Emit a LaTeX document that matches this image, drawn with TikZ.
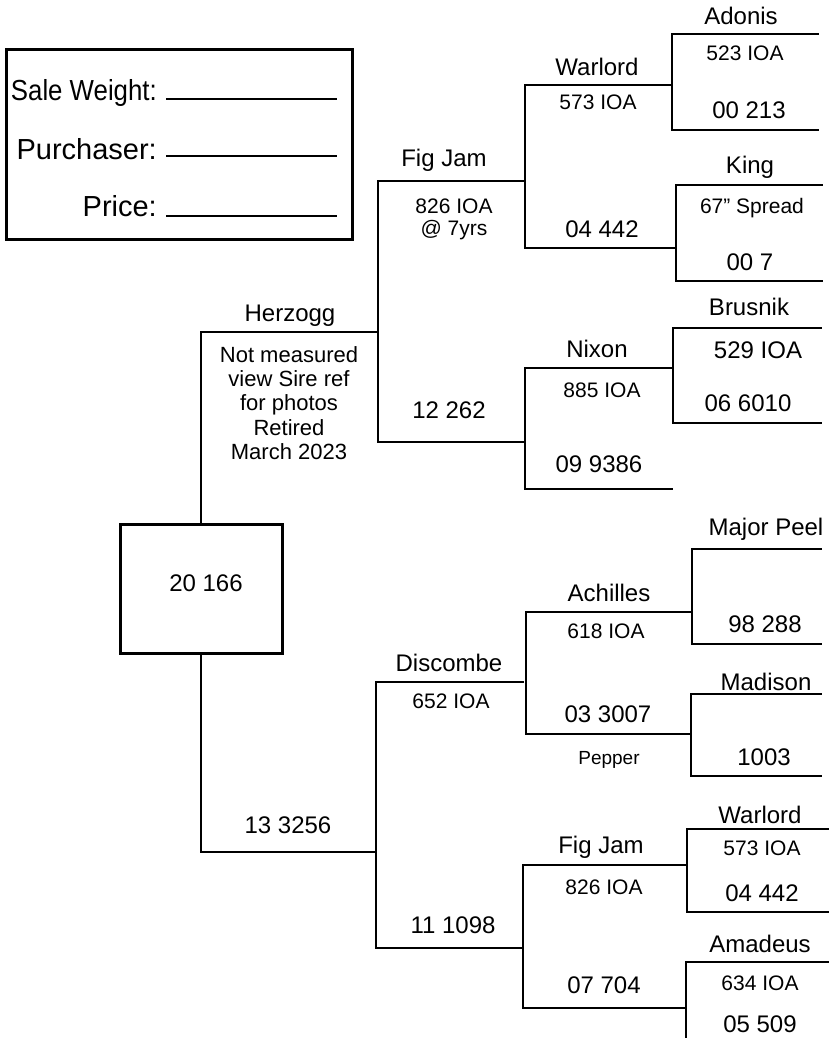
\documentclass[tikz,border=0pt]{standalone}
\usepackage{fontspec}
\usepackage{graphicx}
\setmainfont{Liberation Sans}

\begin{document}
\begin{tikzpicture}[x=1pt, y=-1pt,
    ped/.style={line width=1.6pt, line cap=rect},
    frame/.style={line width=3pt},
    rule/.style={line width=1.2pt},
    big/.style={font=\fontsize{24}{28}\selectfont, anchor=base, inner sep=0pt},
    sml/.style={font=\fontsize{21}{24}\selectfont, anchor=base, inner sep=0pt},
    lab/.style={font=\fontsize{29}{32}\selectfont, anchor=base east, inner sep=0pt}]
  \useasboundingbox (0,0) rectangle (829,1038);

  % sale box
  \draw[frame] (6,50) rectangle (352,239);
  \node[lab] (sw) at (157,101) {\scalebox{0.89}[1]{Sale Weight:}};
  \node[lab] (pu) at (157,159) {Purchaser:};
  \node[lab] (pr) at (157,216) {Price:};
  \coordinate (sw1) at (166,99);  \coordinate (sw2) at (337,99);
  \coordinate (pu1) at (166,156); \coordinate (pu2) at (337,156);
  \coordinate (pr1) at (166,216); \coordinate (pr2) at (337,216);
  \draw[rule] (sw1) -- (sw2);
  \draw[rule] (pu1) -- (pu2);
  \draw[rule] (pr1) -- (pr2);

  % the animal itself
  \node[draw, frame, minimum width=162pt, minimum height=129pt, inner sep=0pt]
    (root) at (201,588.5) {};
  \node[big] (tag) at (206,591) {20 166};

  % sire side
  \coordinate (h1) at (201,332);  \coordinate (h2) at (378,332);
  \coordinate (fj1) at (525,181); \coordinate (fj2) at (378,181);
  \coordinate (fj3) at (378,442); \coordinate (fj4) at (525,442);
  \coordinate (wl1) at (672,85);  \coordinate (wl2) at (525,85);
  \coordinate (wl3) at (525,248); \coordinate (wl4) at (676,248);
  \coordinate (ad1) at (818,34);  \coordinate (ad2) at (672,34);
  \coordinate (ad3) at (672,130); \coordinate (ad4) at (818,130);
  \coordinate (kg1) at (822,185); \coordinate (kg2) at (676,185);
  \coordinate (kg3) at (676,281); \coordinate (kg4) at (822,281);
  \coordinate (nx1) at (673,368); \coordinate (nx2) at (525,368);
  \coordinate (nx3) at (525,489); \coordinate (nx4) at (672,489);
  \coordinate (br1) at (821,328); \coordinate (br2) at (673,328);
  \coordinate (br3) at (673,423); \coordinate (br4) at (821,423);

  \draw[ped] (root.north) -- (h1) -- (h2);
  \draw[ped] (fj1) -- (fj2) -- (fj3) -- (fj4);
  \draw[ped] (wl1) -- (wl2) -- (wl3) -- (wl4);
  \draw[ped] (ad1) -- (ad2) -- (ad3) -- (ad4);
  \draw[ped] (kg1) -- (kg2) -- (kg3) -- (kg4);
  \draw[ped] (nx1) -- (nx2) -- (nx3) -- (nx4);
  \draw[ped] (br1) -- (br2) -- (br3) -- (br4);

  % dam side
  \coordinate (d1) at (201,852);  \coordinate (d2) at (376,852);
  \coordinate (dc1) at (523,682); \coordinate (dc2) at (376,682);
  \coordinate (dc3) at (376,948); \coordinate (dc4) at (523,948);
  \coordinate (ac1) at (692,612); \coordinate (ac2) at (526,612);
  \coordinate (ac3) at (526,734); \coordinate (ac4) at (691,734);
  \coordinate (mp1) at (821,549); \coordinate (mp2) at (692,549);
  \coordinate (mp3) at (692,644); \coordinate (mp4) at (821,644);
  \coordinate (md1) at (821,694); \coordinate (md2) at (691,694);
  \coordinate (md3) at (691,776); \coordinate (md4) at (821,776);
  \coordinate (fk1) at (687,865); \coordinate (fk2) at (523,865);
  \coordinate (fk3) at (523,1008); \coordinate (fk4) at (686,1008);
  \coordinate (wm1) at (829,829); \coordinate (wm2) at (687,829);
  \coordinate (wm3) at (687,912); \coordinate (wm4) at (829,912);
  \coordinate (am1) at (829,962); \coordinate (am2) at (686,962);
  \coordinate (am3) at (686,1040);

  \draw[ped] (root.south) -- (d1) -- (d2);
  \draw[ped] (dc1) -- (dc2) -- (dc3) -- (dc4);
  \draw[ped] (ac1) -- (ac2) -- (ac3) -- (ac4);
  \draw[ped] (mp1) -- (mp2) -- (mp3) -- (mp4);
  \draw[ped] (md1) -- (md2) -- (md3) -- (md4);
  \draw[ped] (fk1) -- (fk2) -- (fk3) -- (fk4);
  \draw[ped] (wm1) -- (wm2) -- (wm3) -- (wm4);
  \draw[ped] (am1) -- (am2) -- (am3);

  % names and tags, sire side
  \node[big] (hzN) at (290,321) {Herzogg};
  \node[anchor=north, inner sep=0pt, align=center,
        font=\fontsize{22}{24.3}\selectfont] (hzT) at (289,346)
    {Not measured\\view Sire ref\\for photos\\Retired\\March 2023};
  \node[big] (fjN) at (444,166) {Fig Jam};
  \node[sml] (fjT) at (454,213) {826 IOA};
  \node[sml] (fjA) at (454,235) {@ 7yrs};
  \node[big] (fjG) at (449,418) {12 262};
  \node[big] (wlN) at (597,76)  {Warlord};
  \node[sml] (wlT) at (598,110) {573 IOA};
  \node[big] (wlG) at (602,237) {04 442};
  \node[big] (adN) at (741,25)  {Adonis};
  \node[sml] (adT) at (745,61)  {523 IOA};
  \node[big] (adG) at (749,119) {00 213};
  \node[big] (kgN) at (750,173) {King};
  \node[sml] (kgT) at (752,213) {67” Spread};
  \node[big] (kgG) at (750,270) {00 7};
  \node[big] (nxN) at (597,357) {Nixon};
  \node[sml] (nxT) at (602,397) {885 IOA};
  \node[big] (nxG) at (599,472) {09 9386};
  \node[big] (brN) at (749,315) {Brusnik};
  \node[big] (brT) at (758,358) {529 IOA};
  \node[big] (brG) at (748,411) {06 6010};

  % names and tags, dam side
  \node[big] (dG)  at (288,833) {13 3256};
  \node[big] (dcN) at (449,671) {Discombe};
  \node[sml] (dcT) at (451,708) {652 IOA};
  \node[big] (dcG) at (453,933) {11 1098};
  \node[big] (acN) at (609,601) {Achilles};
  \node[sml] (acT) at (606,638) {618 IOA};
  \node[big] (acG) at (608,722) {03 3007};
  \node[sml, font=\fontsize{19}{22}\selectfont] (acP) at (609,764) {Pepper};
  \node[big] (mpN) at (766,535) {Major Peel};
  \node[big] (mpG) at (765,632) {98 288};
  \node[big] (mdN) at (766,690) {Madison};
  \node[big] (mdG) at (764,765) {1003};
  \node[big] (fkN) at (601,853) {Fig Jam};
  \node[sml] (fkT) at (604,894) {826 IOA};
  \node[big] (fkG) at (604,993) {07 704};
  \node[big] (wmN) at (760,823) {Warlord};
  \node[sml] (wmT) at (762,855) {573 IOA};
  \node[big] (wmG) at (762,901) {04 442};
  \node[big] (amN) at (760,952) {Amadeus};
  \node[sml] (amT) at (760,990) {634 IOA};
  \node[big] (amG) at (760,1032) {05 509};
\end{tikzpicture}
\end{document}
